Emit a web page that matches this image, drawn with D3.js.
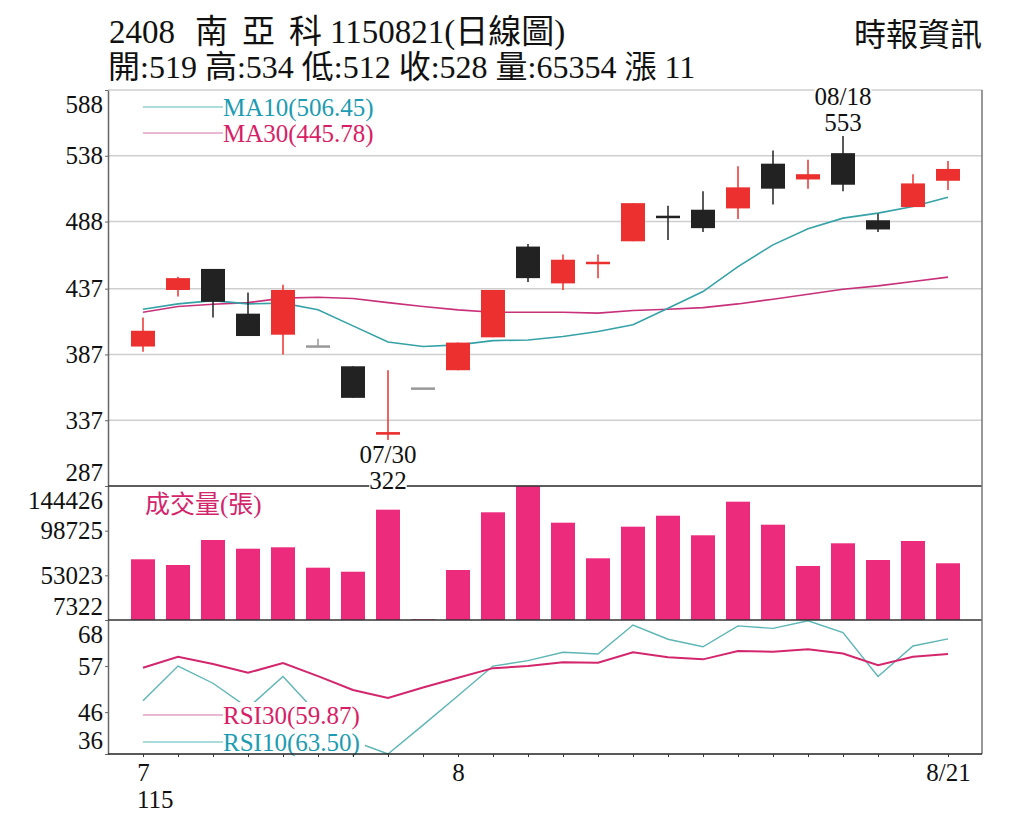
<!DOCTYPE html>
<html>
<head>
<meta charset="utf-8">
<script src="https://cdn.jsdelivr.net/npm/d3@7"></script>
<style>
body { margin: 0; background: #fff; }
text { font-family: "Liberation Serif", "Noto Sans CJK TC", serif; }
</style>
</head>
<body>
<svg id="chart" width="1024" height="831"></svg>
<script>
// 日期 (115/07/21 ~ 115/08/21)
var dates = ["07/21","07/22","07/23","07/24","07/27","07/28","07/29","07/30","07/31",
	"08/03","08/04","08/05","08/06","08/07","08/10","08/11","08/12","08/13","08/14",
	"08/17","08/18","08/19","08/20","08/21"];
var opens  = [393,436,452,418,402,393,378,326,361,375,400,469,441,456,473,492,497,498,532,520,540,489,499,519];
var highs  = [415,446,452,434,440,399,378,375,361,396,436,471,463,463,502,500,511,530,542,535,553,494,524,534];
var lows   = [389,431,415,401,387,393,354,322,361,375,400,442,436,445,473,474,480,490,501,513,511,480,499,512];
var closes = [405,445,427,401,436,393,354,328,361,396,436,445,459,457,502,491,483,514,513,524,516,482,517,528];
var ma10 = [421.4,425.4,427.9,425.4,426,420.9,408.7,396.5,393,394.3,397.5,398,400.6,404.4,409.5,422.1,434.8,453.8,470.3,482.5,490.6,494.4,499.5,506.45];
var ma30 = [419.1,423.4,425.2,426.4,429.8,430.5,429.5,426.4,423.4,420.9,419.1,419.1,419.1,418.4,420.4,421.4,422.6,425.4,429,432.8,436.6,439.1,442.4,445.78];
var volumes = [69430,63600,89180,80280,81710,60840,56740,120180,8040,58480,117520,144426,106880,70450,102790,114040,93990,128370,104830,62580,85800,68710,88150,65354];
var rsi30 = [56.6,59.2,57.5,55.4,57.7,54.6,51.3,49.4,51.9,54.2,56.5,57.0,57.9,57.8,60.3,59.1,58.6,60.6,60.4,61.0,60.0,57.2,59.2,59.87];
var rsi10 = [48.7,57.0,52.9,47,54.5,45.5,39.1,36,42.9,49.9,57.0,58.3,60.3,59.9,66.8,63.4,61.6,66.6,66.0,67.8,65.0,54.5,61.8,63.50];

var priceTicks = [588,538,488,437,387,337,287];
var volTicks = [144426,98725,53023,7322];
var rsiTicks = [68,57,46,36];
var xTickLabels = {"07/21":"7","08/03":"8","08/21":"8/21"};

var svg = d3.select("#chart");
var left = 108, right = 982;
var pTop = 90, pBot = 486, vBot = 620, rBot = 754;

var x = d3.scalePoint().domain(dates).range([143, 948]);
var yP = d3.scaleLinear().domain([287,588]).range([pBot,pTop]);
var yV = d3.scaleLinear().domain([7322,144426]).range([vBot,pBot]);
var yR = d3.scaleLinear().domain([36,68]).range([rBot,vBot]);

// 標題
var t1 = svg.append("text").attr("y", 43).attr("font-size", 33).attr("fill", "#111");
t1.append("tspan").attr("x", 109).text("2408");
t1.append("tspan").attr("x", 195).text("南");
t1.append("tspan").attr("x", 242).text("亞");
t1.append("tspan").attr("x", 289).text("科");
t1.append("tspan").attr("x", 330).text("1150821(日線圖)");
svg.append("text").attr("x", 108).attr("y", 78).attr("font-size", 32).attr("fill", "#111")
	.attr("xml:space", "preserve")
	.text("開:519 高:534 低:512 收:528 量:65354 漲 11");
svg.append("text").attr("x", 982).attr("y", 46).attr("font-size", 32).attr("fill", "#111")
	.attr("text-anchor", "end").text("時報資訊");

// 格線
svg.append("g").selectAll("line").data(priceTicks).join("line")
	.attr("x1", left).attr("x2", right)
	.attr("y1", function(d){ return yP(d); }).attr("y2", function(d){ return yP(d); })
	.attr("stroke", "#cfcfcf").attr("stroke-width", 1.5);

function clampLabel(scale, lo, hi) {
	return function(d) { var y = scale(d); return Math.max(lo + 14, Math.min(hi - 14, y)) - y; };
}
function styleAxis(g) {
	g.select(".domain").attr("stroke", "#666").attr("stroke-width", 1.5);
	g.selectAll(".tick line").attr("stroke", "#666");
	g.selectAll(".tick text").attr("font-size", 25).attr("fill", "#111")
		.attr("font-family", "Liberation Serif");
}

svg.append("g").attr("transform", "translate(" + left + ",0)")
	.call(d3.axisLeft(yP).tickValues(priceTicks).tickFormat(d3.format("d")).tickSize(3).tickSizeOuter(0).tickPadding(2))
	.call(styleAxis)
	.selectAll(".tick text").attr("y", clampLabel(yP, pTop, pBot));
svg.append("g").attr("transform", "translate(" + left + ",0)")
	.call(d3.axisLeft(yV).tickValues(volTicks).tickFormat(d3.format("d")).tickSize(3).tickSizeOuter(0).tickPadding(2))
	.call(styleAxis)
	.selectAll(".tick text").attr("y", clampLabel(yV, pBot, vBot));
svg.append("g").attr("transform", "translate(" + left + ",0)")
	.call(d3.axisLeft(yR).tickValues(rsiTicks).tickFormat(d3.format("d")).tickSize(3).tickSizeOuter(0).tickPadding(2))
	.call(styleAxis)
	.selectAll(".tick text").attr("y", clampLabel(yR, vBot, rBot));

// 均線
var maLine = function(arr) {
	return d3.line().x(function(d,i){ return x(dates[i]); }).y(function(d){ return yP(d); })(arr);
};
svg.append("path").attr("d", maLine(ma30)).attr("fill", "none").attr("stroke", "#c8307a").attr("stroke-width", 1.6);
svg.append("path").attr("d", maLine(ma10)).attr("fill", "none").attr("stroke", "#35a2a8").attr("stroke-width", 1.6);

// K線
var candles = dates.map(function(d,i){
	return {date: d, o: opens[i], h: highs[i], l: lows[i], c: closes[i]};
});
function candleColor(d) { return d.c > d.o ? "#ec3030" : (d.c < d.o ? "#222" : "#999"); }
svg.append("g").selectAll("line").data(candles).join("line")
	.attr("x1", function(d){ return x(d.date); }).attr("x2", function(d){ return x(d.date); })
	.attr("y1", function(d){ return yP(d.h); }).attr("y2", function(d){ return yP(d.l); })
	.attr("stroke", candleColor).attr("stroke-width", 1.5);
svg.append("g").selectAll("rect").data(candles).join("rect")
	.attr("x", function(d){ return x(d.date) - 12; }).attr("width", 24)
	.attr("y", function(d){
		var h = Math.abs(yP(d.o) - yP(d.c));
		return h < 2.5 ? (yP(d.o) + yP(d.c)) / 2 - 1.25 : yP(Math.max(d.o, d.c));
	})
	.attr("height", function(d){ return Math.max(2.5, Math.abs(yP(d.o) - yP(d.c))); })
	.attr("fill", candleColor);

// 均線圖例
var maLegend = [["MA10(506.45)", "#1d9bb2", "#8fcfcf", 107], ["MA30(445.78)", "#d81e66", "#e3a0c0", 133]];
maLegend.forEach(function(m){
	svg.append("line").attr("x1", 143).attr("x2", 223).attr("y1", m[3]).attr("y2", m[3])
		.attr("stroke", m[2]).attr("stroke-width", 1.5);
	svg.append("text").attr("x", 223).attr("y", m[3] + 9).attr("font-size", 25).attr("fill", m[1]).text(m[0]);
});

// 成交量
svg.append("g").selectAll("rect").data(volumes).join("rect")
	.attr("x", function(d,i){ return x(dates[i]) - 12; }).attr("width", 24)
	.attr("y", function(d){ return yV(d); })
	.attr("height", function(d){ return vBot - yV(d); })
	.attr("fill", "#ec2b7c");
svg.append("text").attr("x", 145).attr("y", 513).attr("font-size", 25).attr("fill", "#d4246c").text("成交量(張)");

// RSI
var rsiLine = function(arr) {
	return d3.line().x(function(d,i){ return x(dates[i]); }).y(function(d){ return yR(d); })(arr);
};
svg.append("path").attr("d", rsiLine(rsi10)).attr("fill", "none").attr("stroke", "#5db5b5").attr("stroke-width", 1.4);
svg.append("path").attr("d", rsiLine(rsi30)).attr("fill", "none").attr("stroke", "#d3266c").attr("stroke-width", 2);
svg.append("rect").attr("x", 140).attr("y", 702).attr("width", 225).attr("height", rBot - 702).attr("fill", "#fff");
var rsiLegend = [["RSI30(59.87)", "#d81e66", "#e3a0c0", 715], ["RSI10(63.50)", "#1d9bb2", "#8fcfcf", 742]];
rsiLegend.forEach(function(m){
	svg.append("line").attr("x1", 143).attr("x2", 223).attr("y1", m[3]).attr("y2", m[3])
		.attr("stroke", m[2]).attr("stroke-width", 1.5);
	svg.append("text").attr("x", 223).attr("y", m[3] + 9).attr("font-size", 25).attr("fill", m[1]).text(m[0]);
});

// 框線
[pBot, vBot].forEach(function(y){
	svg.append("line").attr("x1", left).attr("x2", right).attr("y1", y).attr("y2", y)
		.attr("stroke", "#333").attr("stroke-width", 1.5);
});
svg.append("line").attr("x1", right).attr("x2", right).attr("y1", pTop).attr("y2", rBot)
	.attr("stroke", "#777").attr("stroke-width", 1.5);

// X軸
var xg = svg.append("g").attr("transform", "translate(0," + rBot + ")")
	.call(d3.axisBottom(x).tickSize(3).tickPadding(6).tickFormat(function(d){ return xTickLabels[d] || ""; }));
xg.select(".domain").attr("stroke", "#222").attr("stroke-width", 1.5).attr("d", "M" + left + ",0H" + right);
xg.selectAll(".tick line").attr("stroke", "#333");
xg.selectAll(".tick text").attr("font-size", 25).attr("fill", "#111").attr("font-family", "Liberation Serif");
svg.append("text").attr("x", 137).attr("y", 808).attr("font-size", 25).attr("fill", "#111").text("115");

// 高低點標註
function note(date, lines, y0) {
	var g = svg.append("g");
	lines.forEach(function(s, k){
		var t = g.append("text").attr("x", x(date)).attr("y", y0 + k * 26)
			.attr("text-anchor", "middle").attr("font-size", 25).attr("fill", "#111").text(s);
		var b = t.node().getBBox();
		g.insert("rect", "text").attr("x", b.x).attr("y", b.y + 3).attr("width", b.width).attr("height", b.height - 5)
			.attr("fill", "#fff");
	});
}
note("08/18", ["08/18", "553"], 105);
note("07/30", ["07/30", "322"], 463);
</script>
</body>
</html>
